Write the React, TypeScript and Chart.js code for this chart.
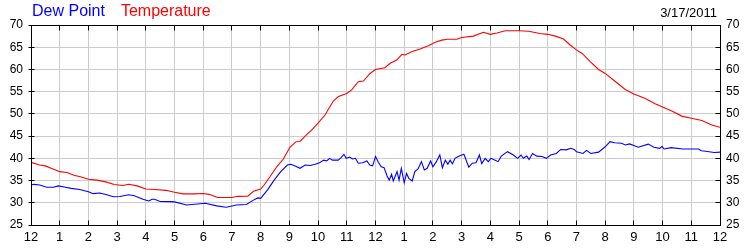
import React, { useEffect, useRef } from 'react';
import { Chart, registerables } from 'chart.js';

Chart.register(...registerables);

const hourLabels = ['12', '1', '2', '3', '4', '5', '6', '7', '8', '9', '10', '11', '12', '1', '2', '3', '4', '5', '6', '7', '8', '9', '10', '11', '12'];

const tempHours = [0, 0.3, 0.5, 0.7, 1.0, 1.25, 1.5, 1.75, 2.0, 2.3, 2.6, 2.9, 3.2, 3.4, 3.7, 4.0, 4.3, 4.7, 5.0, 5.3, 5.7, 6.0, 6.2, 6.5, 7.0, 7.2, 7.55, 7.75, 8.0, 8.12, 8.33, 8.56, 8.79, 9.02, 9.23, 9.37, 9.55, 9.78, 10.0, 10.24, 10.53, 10.71, 11.0, 11.17, 11.4, 11.58, 11.81, 12.0, 12.33, 12.51, 12.74, 12.92, 13.03, 13.26, 13.55, 13.84, 14.08, 14.31, 14.5, 14.83, 15.0, 15.41, 15.76, 16.0, 16.23, 16.52, 17.0, 17.33, 17.73, 18.0, 18.26, 18.55, 18.78, 19.0, 19.2, 19.48, 19.77, 20.0, 20.33, 20.7, 21.0, 21.38, 21.74, 22.0, 22.32, 22.67, 23.0, 23.37, 23.71, 24.0];
const tempValues = [39.1, 38.5, 38.3, 37.75, 37.0, 36.8, 36.2, 35.8, 35.3, 35.1, 34.7, 34.1, 33.9, 34.15, 33.8, 33.1, 33.0, 32.8, 32.35, 32.0, 32.0, 32.1, 31.9, 31.2, 31.2, 31.45, 31.5, 32.6, 33.1, 34.0, 35.9, 38.1, 39.85, 42.5, 43.75, 43.8, 45.0, 46.4, 47.9, 49.75, 52.9, 53.9, 54.6, 55.4, 57.25, 57.4, 59.1, 60.0, 60.4, 61.4, 62.1, 63.4, 63.25, 64.0, 64.6, 65.35, 66.1, 66.6, 66.8, 66.8, 67.2, 67.5, 68.35, 67.9, 68.2, 68.7, 68.7, 68.6, 68.1, 67.9, 67.5, 66.85, 65.5, 64.4, 63.6, 61.75, 60.0, 59.1, 57.4, 55.5, 54.5, 53.5, 52.3, 51.55, 50.65, 49.5, 49.0, 48.5, 47.5, 47.0];

const dewHours = [0, 0.1, 0.3, 0.55, 0.78, 0.95, 1.2, 1.4, 1.7, 2.0, 2.17, 2.4, 2.64, 2.87, 3.1, 3.4, 3.6, 3.9, 4.1, 4.22, 4.3, 4.5, 4.84, 5.0, 5.42, 6.07, 6.47, 6.8, 7.16, 7.5, 7.75, 7.9, 8.0, 8.24, 8.47, 8.7, 8.93, 9.05, 9.22, 9.37, 9.55, 9.72, 9.9, 10.05, 10.2, 10.3, 10.4, 10.5, 10.7, 10.8, 10.9, 10.98, 11.1, 11.2, 11.3, 11.4, 11.55, 11.7, 11.8, 11.9, 12.0, 12.1, 12.2, 12.3, 12.4, 12.48, 12.56, 12.62, 12.75, 12.82, 12.9, 13.0, 13.08, 13.16, 13.28, 13.37, 13.48, 13.6, 13.7, 13.8, 13.92, 14.0, 14.12, 14.24, 14.33, 14.43, 14.52, 14.6, 14.68, 14.77, 14.88, 15.08, 15.25, 15.37, 15.5, 15.62, 15.7, 15.82, 15.93, 16.02, 16.15, 16.27, 16.38, 16.6, 16.8, 16.95, 17.07, 17.15, 17.27, 17.35, 17.47, 17.62, 17.8, 17.95, 18.1, 18.3, 18.45, 18.65, 18.8, 18.92, 19.0, 19.23, 19.35, 19.5, 19.77, 20.0, 20.17, 20.33, 20.57, 20.7, 20.85, 21.0, 21.15, 21.5, 21.7, 21.9, 21.98, 22.05, 22.3, 22.7, 23.25, 23.35, 23.5, 23.8, 24.0];
const dewValues = [34.0, 34.15, 34.0, 33.5, 33.5, 33.8, 33.5, 33.25, 33.0, 32.5, 32.05, 32.2, 31.8, 31.35, 31.4, 31.8, 31.6, 30.8, 30.4, 30.8, 30.8, 30.3, 30.25, 30.2, 29.5, 29.9, 29.3, 29.0, 29.5, 29.6, 30.6, 31.1, 31.0, 32.9, 35.1, 37.0, 38.5, 38.65, 38.2, 37.75, 38.5, 38.4, 38.65, 39.0, 39.6, 39.4, 40.0, 39.6, 39.6, 40.15, 40.9, 40.0, 40.3, 39.85, 40.0, 38.9, 39.0, 39.4, 38.5, 38.3, 40.4, 39.1, 38.1, 37.9, 36.1, 35.1, 36.4, 34.9, 37.0, 35.1, 37.75, 34.5, 36.6, 35.5, 34.9, 37.0, 37.6, 39.25, 37.4, 37.75, 39.4, 38.1, 39.25, 40.75, 37.9, 39.6, 38.7, 39.6, 38.75, 40.0, 40.4, 40.9, 38.0, 38.9, 39.0, 40.75, 38.8, 40.0, 39.25, 40.0, 39.6, 39.25, 40.5, 41.5, 40.75, 40.0, 40.75, 40.0, 40.5, 39.75, 41.1, 40.5, 40.4, 40.0, 40.75, 41.1, 42.0, 41.9, 42.25, 42.0, 41.5, 41.1, 41.8, 41.1, 41.4, 42.6, 43.75, 43.5, 43.4, 43.0, 43.25, 42.9, 42.5, 43.2, 42.5, 42.25, 42.7, 42.1, 42.4, 42.1, 42.1, 41.7, 41.6, 41.3, 41.4];

const FONT = '"Liberation Sans", Arial, sans-serif';

export default function App() {
  const ref = useRef<HTMLCanvasElement>(null);

  useEffect(() => {
    if (!ref.current) return;
    const align = (p: number) => Math.round(p - 0.5) + 0.5;
    const framePlugin = {
      id: 'frame',
      afterDraw(chart: any) {
        const { ctx, chartArea: a, scales } = chart;
        const xs = scales.x;
        const ys = scales.y;
        const L = align(a.left), R = align(a.right), T = align(a.top), B = align(a.bottom);
        ctx.save();
        ctx.strokeStyle = '#000';
        ctx.lineWidth = 1;
        ctx.beginPath();
        ctx.rect(L, T, R - L, B - T);
        xs.ticks.forEach((t: any) => {
          const px = align(xs.getPixelForValue(t.value));
          ctx.moveTo(px, B);
          ctx.lineTo(px, B - 5);
          ctx.moveTo(px, T);
          ctx.lineTo(px, T + 5);
        });
        ys.ticks.forEach((t: any) => {
          const py = align(ys.getPixelForValue(t.value));
          ctx.moveTo(L - 3, py);
          ctx.lineTo(L + 3, py);
          ctx.moveTo(R - 5, py);
          ctx.lineTo(R, py);
        });
        ctx.stroke();
        ctx.restore();
      },
    };

    const chart = new Chart(ref.current, {
      type: 'line',
      data: {
        datasets: [
          {
            label: 'Dew Point',
            data: dewHours.map((h, i) => ({ x: h, y: dewValues[i] })),
            borderColor: '#0000ff',
            borderWidth: 1.1,
            pointRadius: 0,
            tension: 0,
            yAxisID: 'y',
          },
          {
            label: 'Temperature',
            data: tempHours.map((h, i) => ({ x: h, y: tempValues[i] })),
            borderColor: '#ff0000',
            borderWidth: 1.1,
            pointRadius: 0,
            tension: 0,
            yAxisID: 'y',
          },
        ],
      },
      options: {
        responsive: false,
        animation: false,
        layout: { padding: { top: 25, left: 0, right: 0, bottom: 0 } },
        plugins: { legend: { display: false }, tooltip: { enabled: false }, title: { display: false } },
        scales: {
          x: {
            type: 'linear',
            position: 'bottom',
            min: 0,
            max: 24,
            afterFit: (s: any) => { s.height = 25; },
            grid: { color: '#cccccc', drawTicks: false },
            border: { display: false },
            ticks: {
              stepSize: 1,
              maxTicksLimit: 30,
              autoSkip: false,
              maxRotation: 0,
              padding: 5,
              color: '#000',
              font: { family: FONT, size: 13 },
              callback: (v: any) => hourLabels[Number(v)] ?? '',
            },
          },
          y: {
            type: 'linear',
            position: 'left',
            min: 25,
            max: 70,
            afterFit: (s: any) => { s.width = 31; },
            grid: { color: '#cccccc', drawTicks: false },
            border: { display: false },
            ticks: { stepSize: 5, padding: 8, color: '#000', font: { family: FONT, size: 12 } },
          },
          y2: {
            type: 'linear',
            position: 'right',
            min: 25,
            max: 70,
            afterFit: (s: any) => { s.width = 30; },
            grid: { display: false, drawTicks: false },
            border: { display: false },
            ticks: { stepSize: 5, padding: 6, color: '#000', font: { family: FONT, size: 12 } },
          },
        },
      },
      plugins: [framePlugin],
    } as any);
    return () => chart.destroy();
  }, []);

  return (
    <div style={{ position: 'absolute', left: 0, top: 0, width: 750, height: 250, background: '#fff', fontFamily: FONT }}>
      <canvas ref={ref} width={750} height={250} style={{ display: 'block' }} />
      <div style={{ position: 'absolute', left: 32, top: 3, fontSize: 16, lineHeight: '16px', whiteSpace: 'nowrap' }}>
        <span style={{ color: '#0000ff' }}>Dew Point</span>
        <span style={{ color: '#ff0000', marginLeft: 16 }}>Temperature</span>
      </div>
      <div style={{ position: 'absolute', right: 33, top: 6, fontSize: 13, lineHeight: '13px', color: '#000', whiteSpace: 'nowrap' }}>
        3/17/2011
      </div>
    </div>
  );
}
